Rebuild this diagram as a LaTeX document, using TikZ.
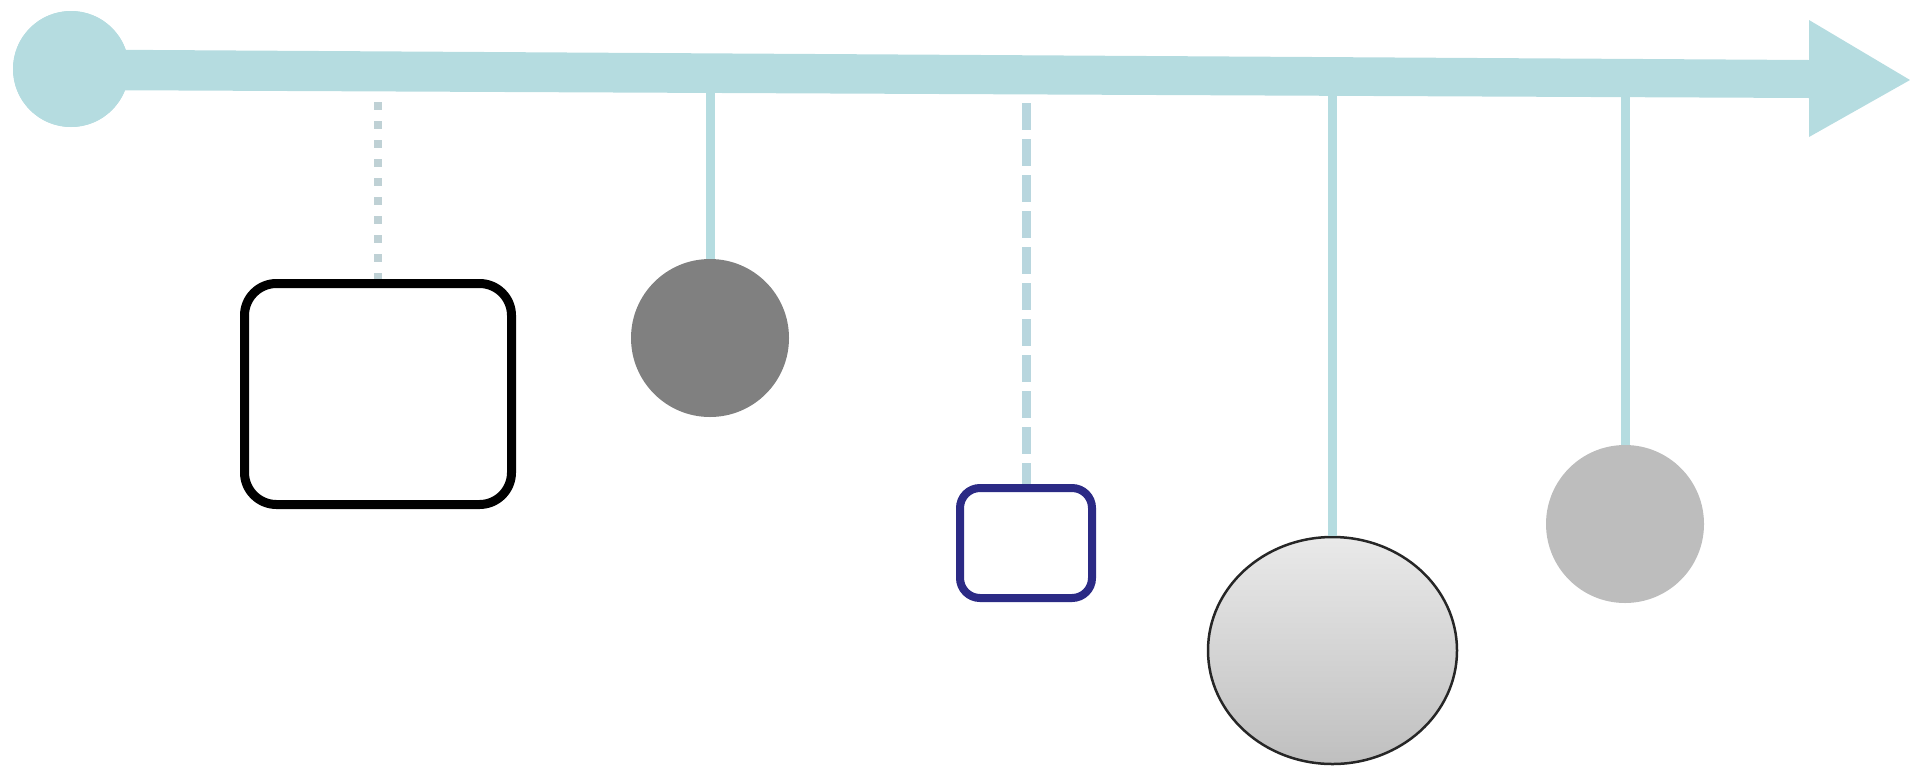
\documentclass[tikz,border=0pt]{standalone}
\usetikzlibrary{shapes.geometric}
\definecolor{axiscol}{HTML}{B5DCE0}
\definecolor{dotcol}{HTML}{BFD1D5}
\definecolor{dashcol}{HTML}{B8D6DE}
\definecolor{navy}{HTML}{2B2A85}
\definecolor{darkgray}{HTML}{808080}
\definecolor{lightgray}{HTML}{BDBDBD}
\begin{document}
\begin{tikzpicture}[x=1pt,y=-1pt,
  solidline/.style={draw=axiscol,line width=9pt},
  dotline/.style={draw=dotcol,line width=8.5pt,dash pattern=on 8pt off 11pt},
  dashline/.style={draw=dashcol,line width=9pt,dash pattern=on 27pt off 9pt},
  disc/.style={circle,inner sep=0pt,draw=none}]
\useasboundingbox (0,0) rectangle (1910,769);
% nodes
\node[disc,fill=axiscol,minimum size=116pt] (start) at (71,69) {};
\node[draw=black,line width=9pt,rounded corners=32pt,minimum width=267pt,minimum height=221pt,inner sep=0pt] (box1) at (378,394) {};
\node[disc,fill=darkgray,minimum size=158pt] (c2) at (710,338) {};
\node[draw=navy,line width=8pt,rounded corners=20pt,minimum width=132pt,minimum height=110pt,inner sep=0pt] (box3) at (1026,543) {};
\node[ellipse,inner sep=0pt,draw=black!85,line width=2.5pt,minimum width=249pt,minimum height=227pt,top color=gray!17,bottom color=gray!50] (c4) at (1332.5,650.5) {};
\node[disc,fill=lightgray,minimum size=158pt] (c5) at (1625,524) {};
% anchor points on the shaft
\coordinate (t1) at (box1.north |- 0,102);
\coordinate (t2) at (c2.north |- 0,80);
\coordinate (t3) at (box3.north |- 0,103);
\coordinate (t4) at (c4.north |- 0,80);
\coordinate (t5) at (c5.north |- 0,80);
% connectors
\draw[dotline] (t1) -- (box1.north);
\draw[solidline] (t2) -- (c2.north);
\draw[dashline] (t3) -- (box3.north);
\draw[solidline] (t4) -- (c4.north);
\draw[solidline] (t5) -- (c5.north);
% shaft with arrow head
\fill[axiscol] (start.center) ++(0,-19.5) -- (1809,60) -- (1809,20) -- (1910,80) -- (1809,137) -- (1809,98) -- (71,90) -- cycle;
\node[disc,fill=axiscol,minimum size=116pt] at (start.center) {};
\end{tikzpicture}
\end{document}
